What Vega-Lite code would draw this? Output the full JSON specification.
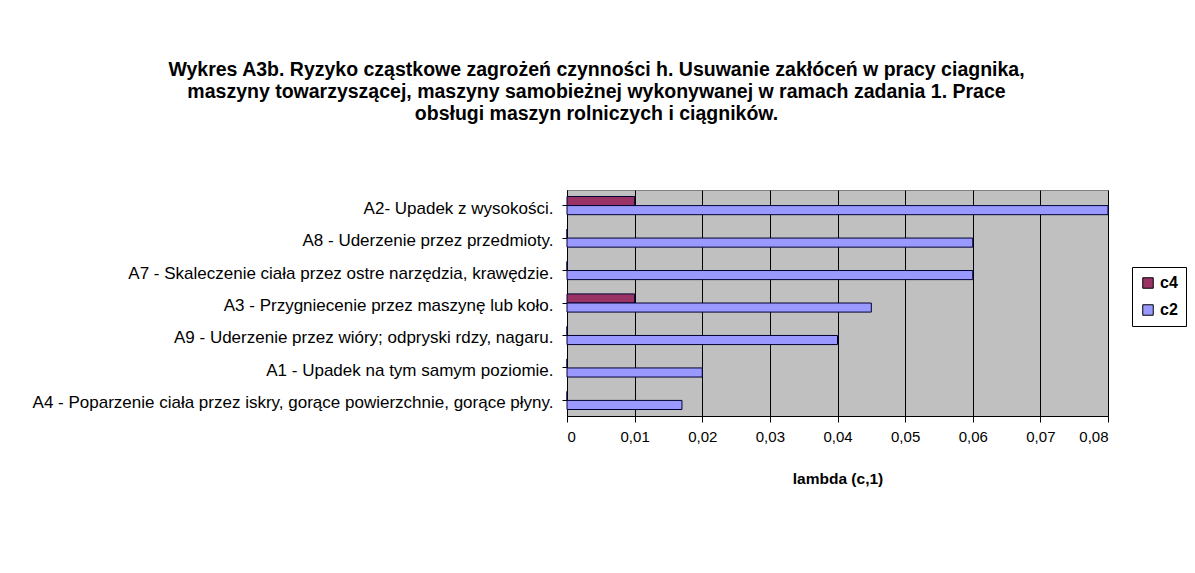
{
  "$schema": "https://vega.github.io/schema/vega-lite/v6.json",
  "autosize": {"type": "none"},
  "width": 541,
  "height": 226,
  "padding": {"left": 567, "top": 190, "right": 87, "bottom": 157},
  "background": "white",
  "title": {
    "text": ["Wykres A3b. Ryzyko cząstkowe zagrożeń czynności h. Usuwanie zakłóceń w pracy ciagnika,", "maszyny towarzyszącej, maszyny samobieżnej wykonywanej w ramach zadania 1. Prace", "obsługi maszyn rolniczych i ciągników."],
    "font": "Liberation Sans",
    "fontSize": 19.5,
    "fontWeight": "bold",
    "color": "black",
    "lineHeight": 22,
    "anchor": "middle",
    "frame": "group",
    "dx": -241,
    "offset": 66
  },
  "data": {
    "values": [
      {"category": "A2- Upadek z wysokości.", "series": "c4", "value": 0.01},
      {"category": "A2- Upadek z wysokości.", "series": "c2", "value": 0.08},
      {"category": "A8 - Uderzenie przez przedmioty.", "series": "c4", "value": 0},
      {"category": "A8 - Uderzenie przez przedmioty.", "series": "c2", "value": 0.06},
      {"category": "A7 - Skaleczenie ciała przez ostre narzędzia, krawędzie.", "series": "c4", "value": 0},
      {"category": "A7 - Skaleczenie ciała przez ostre narzędzia, krawędzie.", "series": "c2", "value": 0.06},
      {"category": "A3 - Przygniecenie przez maszynę lub koło.", "series": "c4", "value": 0.01},
      {"category": "A3 - Przygniecenie przez maszynę lub koło.", "series": "c2", "value": 0.045},
      {"category": "A9 - Uderzenie przez wióry; odpryski rdzy, nagaru.", "series": "c4", "value": 0},
      {"category": "A9 - Uderzenie przez wióry; odpryski rdzy, nagaru.", "series": "c2", "value": 0.04},
      {"category": "A1 - Upadek na tym samym poziomie.", "series": "c4", "value": 0},
      {"category": "A1 - Upadek na tym samym poziomie.", "series": "c2", "value": 0.02},
      {"category": "A4 - Poparzenie ciała przez iskry, gorące powierzchnie, gorące płyny.", "series": "c4", "value": 0},
      {"category": "A4 - Poparzenie ciała przez iskry, gorące powierzchnie, gorące płyny.", "series": "c2", "value": 0.017}
    ]
  },
  "mark": {"type": "bar", "stroke": "#000033", "strokeWidth": 1},
  "encoding": {
    "y": {
      "field": "category",
      "type": "nominal",
      "sort": null,
      "scale": {"paddingInner": 0.44, "paddingOuter": 0.2},
      "axis": {
        "title": null,
        "labelFont": "Liberation Sans",
        "labelFontSize": 17,
        "labelLimit": 0,
        "labelColor": "black",
        "labelPadding": 9,
        "labelOffset": 3,
        "domainColor": "black",
        "tickColor": "black",
        "tickSize": 5,
        "grid": false
      }
    },
    "yOffset": {"field": "series", "type": "nominal", "scale": {"domain": ["c4", "c2"]}},
    "x": {
      "field": "value",
      "type": "quantitative",
      "scale": {"domain": [0, 0.08], "nice": false},
      "axis": {
        "values": [0, 0.01, 0.02, 0.03, 0.04, 0.05, 0.06, 0.07, 0.08],
        "labelExpr": "datum.value == 0 ? '0' : replace(format(datum.value, '.2f'), '.', ',')",
        "labelFont": "Liberation Sans",
        "labelFontSize": 15,
        "labelColor": "black",
        "labelPadding": 7,
        "title": "lambda (c,1)",
        "titleFont": "Liberation Sans",
        "titleFontSize": 15.5,
        "titleFontWeight": "bold",
        "titleColor": "black",
        "titlePadding": 27,
        "domainColor": "black",
        "tickColor": "black",
        "tickSize": 6,
        "grid": true,
        "gridColor": "black",
        "gridOpacity": 1,
        "gridWidth": 1
      }
    },
    "color": {
      "field": "series",
      "type": "nominal",
      "scale": {"domain": ["c4", "c2"], "range": ["#993366", "#9999ff"]},
      "legend": {
        "title": null,
        "orient": "none",
        "legendX": 565,
        "legendY": 77,
        "strokeColor": "black",
        "padding": 8,
        "symbolType": "square",
        "symbolSize": 110,
        "symbolStrokeColor": "black",
        "symbolStrokeWidth": 1,
        "labelFont": "Liberation Sans",
        "labelFontSize": 16,
        "labelFontWeight": "bold",
        "labelColor": "black",
        "rowPadding": 11
      }
    }
  },
  "config": {
    "view": {"fill": "#c0c0c0", "stroke": "#808080"}
  }
}
